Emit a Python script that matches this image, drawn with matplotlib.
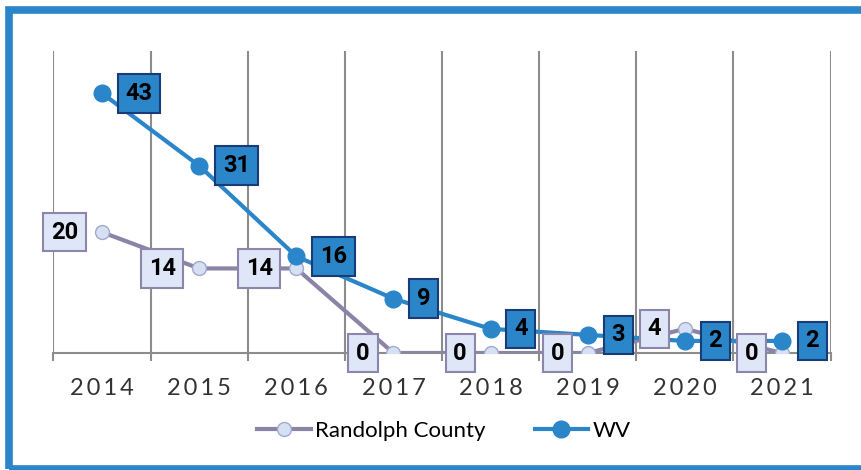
import matplotlib
matplotlib.use("Agg")
import matplotlib.pyplot as plt
from matplotlib.patches import Rectangle
import numpy as np

years = ["2014", "2015", "2016", "2017", "2018", "2019", "2020", "2021"]
randolph = [20, 14, 14, 0, 0, 0, 4, 0]
wv = [43, 31, 16, 9, 4, 3, 2, 2]

plt.rcParams['font.family'] = ['Lato', 'DejaVu Sans']

BLUE = "#2a86c8"
PURPLE = "#8a84a6"
GRID = "#8c8c8c"
LABEL_FONT = ['Roboto', 'DejaVu Sans']

fig = plt.figure(figsize=(8.61, 4.70), dpi=100)
ax = fig.add_axes([53/861, 1-353/470, (831-53)/861, (353-51)/470])

x = np.arange(len(years))

ax.plot(x, randolph, color=PURPLE, lw=3, marker='o', ms=10,
        mfc="#d6e0f5", mec="#a2a9cc", mew=1, label="Randolph County", zorder=3)
ax.plot(x, wv, color=BLUE, lw=3, marker='o', ms=12,
        mfc=BLUE, mec=BLUE, label="WV", zorder=4)

for xi, v in zip(x, randolph):
    ax.annotate(str(v), (xi, v), xytext=(-17, 0), textcoords='offset points',
                ha='right', va='center', fontsize=17, fontweight='bold', color='black',
                family=LABEL_FONT,
                bbox=dict(boxstyle='square,pad=0.33', fc="#dfe6f8", ec="#8c86aa", lw=1.5),
                zorder=6, annotation_clip=False)
for xi, v in zip(x, wv):
    ax.annotate(str(v), (xi, v), xytext=(17, 0), textcoords='offset points',
                ha='left', va='center', fontsize=17, fontweight='bold', color='black',
                family=LABEL_FONT,
                bbox=dict(boxstyle='square,pad=0.33', fc=BLUE, ec="#1b3a78", lw=1.5),
                zorder=7, annotation_clip=False)

ax.set_xlim(-0.505, len(years) - 0.495)
ax.set_ylim(0, 50)
ax.set_xticks(x)
ax.set_xticklabels(["\u2009".join(y) for y in years], fontsize=17, color="#333333")
ax.set_xticks(np.arange(-0.5, len(years), 1), minor=True)
ax.tick_params(axis='x', which='major', length=0, pad=18)
ax.tick_params(axis='x', which='minor', length=6, width=1.5, color=GRID)
ax.grid(which='minor', axis='x', color=GRID, lw=1.5)
ax.set_yticks([])
for s in ['top', 'right', 'left']:
    ax.spines[s].set_visible(False)
ax.spines['bottom'].set_color(GRID)
ax.spines['bottom'].set_linewidth(1.5)

fig.legend(loc='center', bbox_to_anchor=(444/861, 1-431/470), ncol=2, frameon=False,
           fontsize=16, handlelength=2.4, columnspacing=2.2, handletextpad=0.2)

fig.patches.append(Rectangle((9/861, 1/470), 2.0, 459/470, transform=fig.transFigure,
                             fill=False, ec=BLUE, lw=5.5, clip_on=False))

fig.savefig("out.png", dpi=100)
